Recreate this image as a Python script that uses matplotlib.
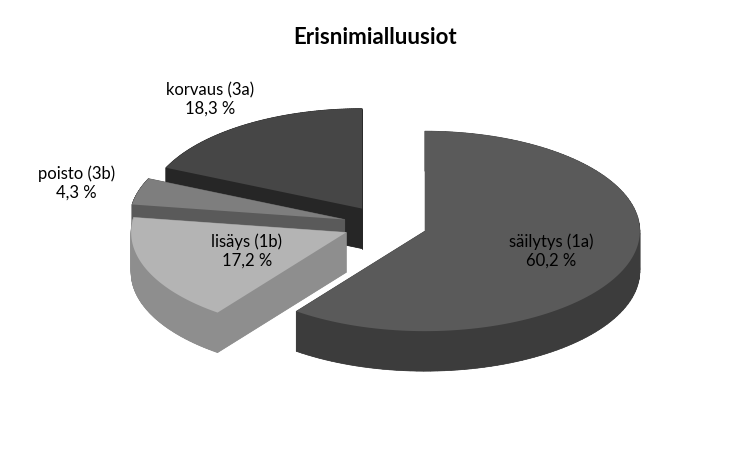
import numpy as np
import matplotlib.pyplot as plt
from matplotlib.patches import Polygon

labels = ["säilytys (1a)", "lisäys (1b)", "poisto (3b)", "korvaus (3a)"]
values = [60.2, 17.2, 4.3, 18.3]
top_colors = ["#5a5a5a", "#b4b4b4", "#7e7e7e", "#464646"]
side_colors = ["#3c3c3c", "#8e8e8e", "#5a5a5a", "#262626"]
label_pos = [0.62, 0.5, 1.3, 1.3]

cx, cy = 385, 225
rx, ry = 215, 100
depth = 40
explode = 42

fig = plt.figure(figsize=(7.5, 4.5), dpi=100)
ax = fig.add_axes([0, 0, 1, 1])
ax.set_xlim(0, 750)
ax.set_ylim(0, 450)
ax.axis("off")

fracs = np.array(values) / sum(values)
starts = 90 - 360 * np.concatenate([[0], np.cumsum(fracs)[:-1]])
ends = starts - 360 * fracs
mids = (starts + ends) / 2

order = np.argsort(-np.sin(np.radians(mids)))
for i in order:
    m = np.radians(mids[i])
    ox = cx + explode * np.cos(m)
    oy = cy + explode * ry / rx * np.sin(m)
    t = np.radians(np.linspace(starts[i], ends[i], 120))
    xs = np.concatenate([[ox], ox + rx * np.cos(t)])
    ys = np.concatenate([[oy], oy + ry * np.sin(t)])
    top = np.column_stack([xs, ys])
    bot = top - [0, depth]
    ax.add_patch(Polygon(bot, closed=True, fc=side_colors[i], ec="none"))
    n = len(top)
    quads = []
    for k in range(n):
        a, b = top[k], top[(k + 1) % n]
        quads.append([a, b, b - [0, depth], a - [0, depth]])
    quads.sort(key=lambda q: -(q[0][1] + q[1][1]))
    for q in quads:
        ax.add_patch(Polygon(q, closed=True, fc=side_colors[i], ec=side_colors[i], lw=0.5))
    ax.add_patch(Polygon(top, closed=True, fc=top_colors[i], ec="none"))
    f = label_pos[i]
    lx = ox + f * rx * np.cos(m)
    ly = oy + f * ry * np.sin(m)
    ax.text(lx, ly, "%s\n%s %%" % (labels[i], ("%.1f" % values[i]).replace(".", ",")),
            ha="center", va="center", fontsize=12, family="Lato", color="black",
            linespacing=1.2)

ax.text(375, 413, "Erisnimialluusiot", ha="center", va="center",
        fontsize=16, fontweight="bold", family="Lato")

fig.savefig("out.png", dpi=100)
